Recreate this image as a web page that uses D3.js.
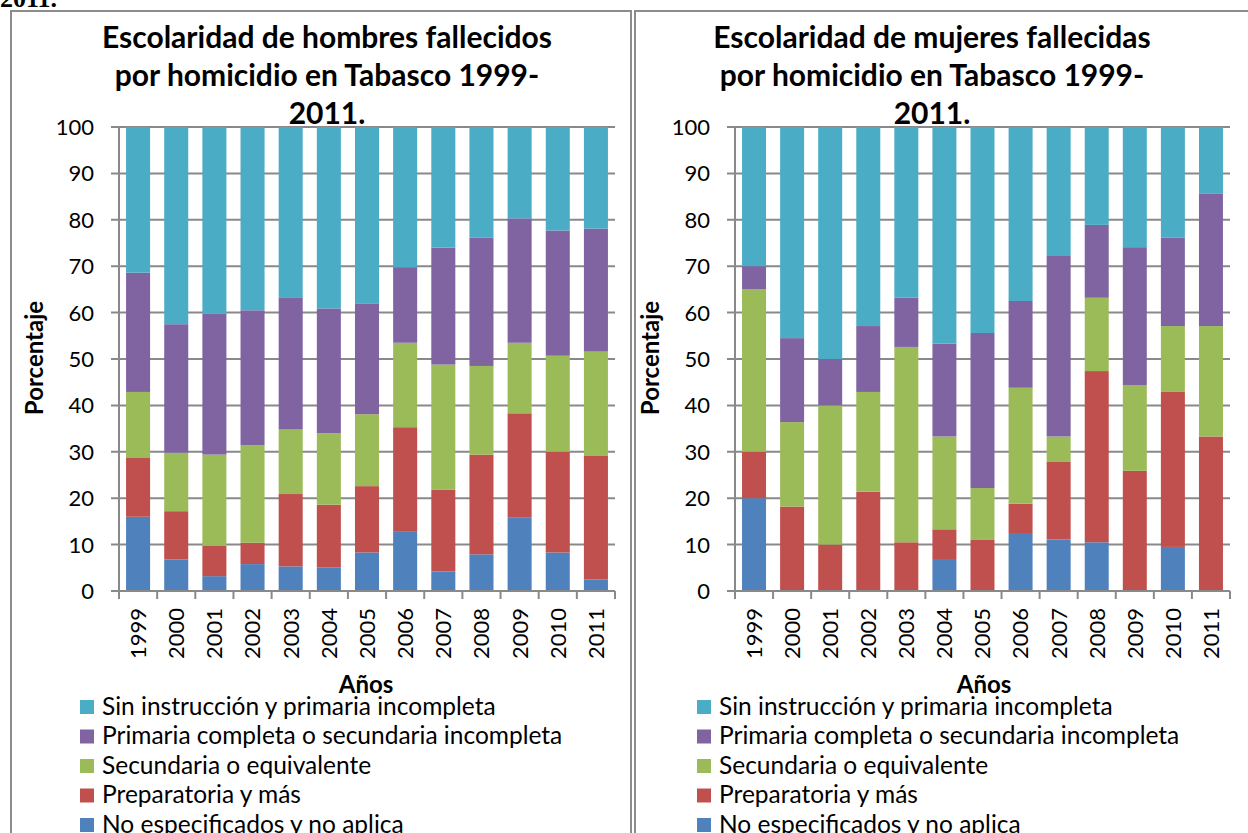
<!DOCTYPE html>
<html><head><meta charset="utf-8">
<script src="https://cdn.jsdelivr.net/npm/d3@7"></script>
<style>html,body{margin:0;padding:0;background:#fff;}svg{display:block;font-family:Lato,"Open Sans",sans-serif;}</style>
</head><body>
<svg id="c" width="1248" height="833"></svg>
<script>
const years = ["1999","2000","2001","2002","2003","2004","2005","2006","2007","2008","2009","2010","2011"];
const seriesNames = ["Sin instrucción y primaria incompleta","Primaria completa o secundaria incompleta","Secundaria o equivalente","Preparatoria y más","No especificados y no aplica"];
const seriesColors = ["#4BACC6","#8064A2","#9BBB59","#C0504D","#4F81BD"];
const yTicks = [0,10,20,30,40,50,60,70,80,90,100];

// Hombres
const hombresSin   = [31.4,42.5,40.2,39.5,36.7,39.1,38.0,30.2,26.0,23.8,19.7,22.3,21.9];
const hombresPrim  = [25.7,27.7,30.4,29.1,28.5,26.9,23.9,16.3,25.2,27.7,26.8,27.0,26.5];
const hombresSec   = [14.1,12.6,19.7,21.0,13.9,15.4,15.5,18.2,27.0,19.1,15.2,20.7,22.5];
const hombresPrep  = [12.8,10.4,6.5,4.6,15.6,13.5,14.3,22.4,17.6,21.5,22.4,21.7,26.6];
const hombresNoEsp = [16.0,6.8,3.2,5.8,5.3,5.1,8.3,12.9,4.2,7.9,15.9,8.3,2.5];

// Mujeres
const mujeresSin   = [30.0,45.5,50.0,42.9,36.8,46.7,44.4,37.5,27.8,21.1,25.9,23.8,14.3];
const mujeresPrim  = [5.0,18.1,10.0,14.2,10.6,20.0,33.4,18.7,38.9,15.7,29.7,19.1,28.6];
const mujeresSec   = [35.0,18.2,30.0,21.5,42.1,20.0,11.2,25.0,5.5,15.8,18.5,14.2,23.8];
const mujeresPrep  = [10.0,18.2,10.0,21.4,10.5,6.6,11.0,6.3,16.7,36.9,25.9,33.4,33.3];
const mujeresNoEsp = [20.0,0,0,0,0,6.7,0,12.5,11.1,10.5,0,9.5,0];

const titleHombres = ["Escolaridad de hombres fallecidos","por homicidio en Tabasco 1999-","2011."];
const titleMujeres = ["Escolaridad de mujeres fallecidas","por homicidio en Tabasco 1999-","2011."];

const svg = d3.select("#c");
const borderColor = "#8c8c8c";
const gridColor = "#898989";

// clipped document text at very top
svg.append("text").attr("x",0).attr("y",7).attr("font-family","'Liberation Serif',serif")
  .attr("font-weight","bold").attr("font-size",26).text("2011.");

// panel borders
svg.append("rect").attr("x",11).attr("y",11).attr("width",620).attr("height",840)
  .attr("fill","none").attr("stroke",borderColor).attr("stroke-width",2);
svg.append("path").attr("d","M635,851V11H1250").attr("fill","none").attr("stroke",borderColor).attr("stroke-width",2);

function drawChart(cfg){
  const g = svg.append("g");
  const rows = years.map((yr,i)=>({year:yr, s0:cfg.values[0][i], s1:cfg.values[1][i], s2:cfg.values[2][i], s3:cfg.values[3][i], s4:cfg.values[4][i]}));
  const keys = ["s4","s3","s2","s1","s0"]; // bottom to top
  const stack = d3.stack().keys(keys)(rows);
  const x = d3.scaleBand().domain(years).range([cfg.x0,cfg.x1]).paddingInner(0.37).paddingOuter(0.185);
  const y = d3.scaleLinear().domain([0,100]).range([591,127]);
  const step = x.step();

  // gridlines + y ticks
  g.selectAll(".grid").data(yTicks).join("line")
    .attr("x1",cfg.x0-8).attr("x2",cfg.x1).attr("y1",d=>y(d)).attr("y2",d=>y(d))
    .attr("stroke",gridColor).attr("stroke-width",2);
  // y axis line
  g.append("line").attr("x1",cfg.x0).attr("x2",cfg.x0).attr("y1",y(100)).attr("y2",y(0))
    .attr("stroke",gridColor).attr("stroke-width",2);

  // bars
  stack.forEach((layer,li)=>{
    const color = seriesColors[4-li];
    g.selectAll(null).data(layer).join("rect")
      .attr("x",d=>x(d.data.year)).attr("width",x.bandwidth())
      .attr("y",d=>y(d[1])).attr("height",d=>Math.max(0,y(d[0])-y(d[1])))
      .attr("fill",color);
  });

  // x ticks at band boundaries
  const bounds = d3.range(years.length+1).map(i=>cfg.x0+i*step);
  g.selectAll(".xt").data(bounds).join("line")
    .attr("x1",d=>d).attr("x2",d=>d).attr("y1",y(0)).attr("y2",y(0)+8)
    .attr("stroke",gridColor).attr("stroke-width",2);
  g.append("line").attr("x1",cfg.x0).attr("x2",cfg.x1).attr("y1",y(0)).attr("y2",y(0))
    .attr("stroke",gridColor).attr("stroke-width",2);

  // y tick labels
  g.selectAll(".yl").data(yTicks).join("text")
    .attr("x",cfg.x0-25).attr("y",d=>y(d)).attr("dy","0.36em")
    .attr("text-anchor","end").attr("font-size",22).attr("fill","#000").text(d=>d);

  // x labels rotated
  g.selectAll(".xl").data(years).join("text")
    .attr("transform",d=>`translate(${x(d)+x.bandwidth()/2},608) rotate(-90)`)
    .attr("dy","0.36em").attr("text-anchor","end").attr("font-size",22).attr("fill","#000").text(d=>d);

  // title
  cfg.title.forEach((t,i)=>{
    g.append("text").attr("x",cfg.titleX).attr("y",48+i*38).attr("text-anchor","middle")
      .attr("font-weight","bold").attr("font-size",30).attr("fill","#000").text(t);
  });

  // axis titles
  g.append("text").attr("transform",`translate(${cfg.x0-76},358) rotate(-90)`)
    .attr("text-anchor","middle").attr("font-weight","bold").attr("font-size",24).text("Porcentaje");
  g.append("text").attr("x",cfg.axisTitleX).attr("y",693).attr("text-anchor","middle")
    .attr("font-weight","bold").attr("font-size",24).text("Años");

  // legend
  seriesNames.forEach((n,i)=>{
    const yy = 700 + i*29.5;
    g.append("rect").attr("x",cfg.legX).attr("y",yy).attr("width",14).attr("height",14).attr("fill",seriesColors[i]);
    g.append("text").attr("x",cfg.legX+22).attr("y",yy+14.5).attr("font-size",24.5).attr("fill","#000").text(n);
  });
}

drawChart({x0:119,x1:615,values:[hombresSin,hombresPrim,hombresSec,hombresPrep,hombresNoEsp],title:titleHombres,titleX:327,axisTitleX:366,legX:80});
drawChart({x0:735,x1:1230,values:[mujeresSin,mujeresPrim,mujeresSec,mujeresPrep,mujeresNoEsp],title:titleMujeres,titleX:932,axisTitleX:984,legX:697});
</script>
</body></html>
